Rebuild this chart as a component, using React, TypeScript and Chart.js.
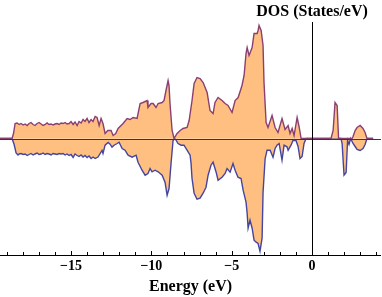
import { useEffect, useRef } from "react";
import { Chart, registerables } from "chart.js";

Chart.register(...registerables);

// Energy grid (eV) and DOS values (States/eV) for the upper (spin-up) curve
const energyUp = [
  -19.42, -18.67, -18.58, -18.48, -18.36, -18.23, -18.11, -17.98, -17.86, -17.73,
  -17.61, -17.49, -17.36, -17.24, -17.11, -16.99, -16.86, -16.74, -16.61, -16.49,
  -16.37, -16.24, -16.12, -15.99, -15.87, -15.74, -15.62, -15.49, -15.37, -15.25,
  -15.12, -15.0, -14.87, -14.75, -14.62, -14.5, -14.37, -14.25, -14.13, -14.0,
  -13.88, -13.75, -13.63, -13.5, -13.38, -13.25, -13.13, -13.01, -12.88, -12.71,
  -12.51, -12.38, -12.22, -12.07, -11.76, -11.51, -11.32, -11.14, -10.89, -10.7,
  -10.52, -10.27, -10.21, -10.02, -9.89, -9.71, -9.58, -9.33, -9.21, -9.09,
  -8.96, -8.9, -8.84, -8.71, -8.59, -8.4, -8.21, -8.03, -7.78, -7.65,
  -7.47, -7.34, -7.16, -6.97, -6.78, -6.53, -6.35, -6.16, -6.04, -5.85,
  -5.6, -5.41, -5.23, -4.98, -4.79, -4.6, -4.36, -4.23, -4.11, -4.04,
  -3.92, -3.73, -3.61, -3.42, -3.36, -3.3, -3.17, -3.05, -2.99, -2.86,
  -2.74, -2.49, -2.3, -2.12, -1.87, -1.68, -1.49, -1.37, -1.24, -1.12,
  -0.93, -0.81, -0.68, 1.18, 1.31, 1.43, 1.56, 1.65, 2.49, 2.55,
  2.68, 2.8, 2.99, 3.17, 3.3, 3.42, 3.8,
];
const dosUp = [
  0, 0, 0.5, 1.5, 1.55, 1.4, 1.5, 1.35, 1.45, 1.3,
  1.5, 1.6, 1.4, 1.3, 1.5, 1.6, 1.45, 1.3, 1.4, 1.55,
  1.4, 1.45, 1.35, 1.45, 1.5, 1.4, 1.55, 1.5, 1.6, 1.45,
  1.5, 1.7, 1.4, 1.65, 1.3, 1.7, 1.55, 1.9, 1.7, 2.0,
  1.6, 1.9, 1.7, 2.2, 2.1, 1.3, 2.0, 1.5, 0.5, 0.8,
  0.8, 0.3, 0.5, 1.0, 1.5, 2.0, 1.9, 2.1, 2.0, 3.5,
  3.6, 3.8, 3.1, 3.5, 3.5, 3.1, 3.5, 3.6, 3.8, 4.8,
  5.8, 5.3, 3.5, 0.8, 0, 0.5, 0.8, 1.0, 1.1, 1.8,
  3.8, 5.5, 6.1, 6.0, 5.6, 4.6, 2.8, 2.5, 3.6, 4.1,
  3.8, 3.5, 3.3, 2.6, 3.8, 4.1, 5.3, 6.3, 8.5, 9.1,
  8.3, 9.1, 10.5, 10.5, 10.8, 11.3, 10.8, 9.3, 5.6, 1.6,
  1.1, 2.3, 1.1, 0.6, 2.0, 0.9, 1.3, 0.5, 1.0, 0.3,
  2.1, 1.2, 0, 0, 0.8, 3.6, 3.3, 0, 0, 0.2,
  0.8, 1.1, 1.3, 1.0, 0.6, 0, 0,
];

// Energy grid (eV) and DOS values (States/eV) for the lower (spin-down) curve
const energyDown = [
  -19.42, -18.67, -18.54, -18.42, -18.3, -18.23, -18.11, -17.98, -17.86, -17.73,
  -17.61, -17.49, -17.36, -17.24, -17.11, -16.99, -16.86, -16.74, -16.62, -16.49,
  -16.37, -16.24, -16.12, -15.99, -15.87, -15.74, -15.62, -15.5, -15.37, -15.25,
  -15.12, -15.0, -14.87, -14.75, -14.62, -14.5, -14.38, -14.25, -14.13, -14.0,
  -13.88, -13.75, -13.63, -13.5, -13.32, -13.07, -13.01, -12.88, -12.69, -12.57,
  -12.45, -12.32, -12.13, -12.01, -11.82, -11.64, -11.45, -11.2, -10.95, -10.83,
  -10.58, -10.39, -10.21, -10.08, -9.96, -9.77, -9.58, -9.33, -9.15, -9.02,
  -8.9, -8.77, -8.65, -8.53, -8.34, -8.15, -7.97, -7.78, -7.59, -7.53,
  -7.47, -7.34, -7.16, -6.97, -6.78, -6.6, -6.47, -6.29, -6.16, -5.97,
  -5.85, -5.6, -5.41, -5.29, -5.1, -4.92, -4.79, -4.61, -4.42, -4.29,
  -4.11, -4.04, -3.98, -3.86, -3.73, -3.61, -3.48, -3.36, -3.24, -3.11,
  -3.05, -2.92, -2.8, -2.61, -2.43, -2.3, -2.18, -2.05, -1.87, -1.74,
  -1.56, -1.49, -1.31, -1.18, -1.0, -0.87, -0.75, -0.62, -0.5, -0.37,
  1.8, 1.87, 1.99, 2.12, 2.21, 2.3, 2.4, 2.55, 2.68, 2.8,
  2.99, 3.17, 3.3, 3.42, 3.8,
];
const dosDown = [
  0, 0, -0.6, -1.45, -1.65, -1.55, -1.5, -1.6, -1.55, -1.7,
  -1.6, -1.5, -1.65, -1.55, -1.45, -1.6, -1.55, -1.45, -1.6, -1.5,
  -1.55, -1.65, -1.5, -1.55, -1.6, -1.5, -1.55, -1.5, -1.65, -1.55,
  -1.7, -1.6, -1.9, -1.55, -1.7, -1.8, -1.65, -1.85, -1.7, -1.9,
  -1.75, -2.0, -1.85, -2.0, -1.85, -1.2, -1.5, -0.67, -0.4, -0.57,
  -0.86, -0.67, -0.5, -0.37, -1.0, -1.17, -1.67, -1.87, -1.67, -2.37,
  -3.17, -3.67, -3.5, -3.0, -3.33, -3.17, -3.33, -3.67, -4.37, -5.67,
  -5.0, -2.37, -0.2, 0, -0.5, -0.67, -0.67, -1.17, -1.67, -2.5,
  -4.0, -5.47, -6.07, -5.97, -5.47, -4.87, -3.67, -2.67, -2.37, -3.37,
  -4.17, -3.87, -3.5, -3.0, -3.37, -2.5, -3.17, -3.87, -4.0, -5.17,
  -6.37, -7.47, -8.97, -8.17, -8.97, -10.17, -10.37, -10.5, -11.27, -9.97,
  -5.37, -2.0, -1.17, -1.17, -1.87, -1.0, -0.67, -0.5, -2.17, -0.67,
  -0.83, -1.17, -0.67, -0.17, -0.2, -0.8, -2.0, -1.8, -0.5, 0,
  0, -0.5, -3.67, -3.4, -0.2, -0.6, 0, -0.5, -0.8, -1.1,
  -1.2, -1.0, -0.6, 0, 0,
];

const xMin = -19.42;
const xMax = 4.29;
const yMin = -11.65;
const yMax = 11.65;
const majorTicks = [-15, -10, -5, 0];
const xTitle = "Energy (eV)";
const yTitle = "DOS (States/eV)";

const SERIF = "'Liberation Serif', 'Times New Roman', serif";

export default function App() {
  const ref = useRef<HTMLCanvasElement | null>(null);

  useEffect(() => {
    if (!ref.current) return;

    const extras = {
      id: "extras",
      afterDraw(chart: any) {
        const ctx = chart.ctx;
        const xs = chart.scales.x;
        const ys = chart.scales.y;
        const area = chart.chartArea;
        ctx.save();
        // zero baseline across the plot
        const y0 = Math.round(ys.getPixelForValue(0)) + 0.5;
        ctx.strokeStyle = "#34344e";
        ctx.lineWidth = 1;
        ctx.beginPath();
        ctx.moveTo(area.left, y0);
        ctx.lineTo(area.right, y0);
        ctx.stroke();
        // vertical axis through x = 0
        const x0 = Math.round(xs.getPixelForValue(0)) + 0.5;
        ctx.strokeStyle = "#000";
        ctx.beginPath();
        ctx.moveTo(x0, area.top);
        ctx.lineTo(x0, area.bottom);
        ctx.stroke();
        // inward tick marks on the bottom axis
        for (const t of xs.ticks) {
          const px = Math.round(xs.getPixelForValue(t.value)) + 0.5;
          const len = majorTicks.includes(t.value) ? 4 : 3;
          ctx.beginPath();
          ctx.moveTo(px, area.bottom);
          ctx.lineTo(px, area.bottom - len);
          ctx.stroke();
        }
        // vertical axis label at the top of the x = 0 axis
        ctx.fillStyle = "#000";
        ctx.font = `bold 16px ${SERIF}`;
        ctx.textAlign = "center";
        ctx.textBaseline = "alphabetic";
        ctx.fillText(yTitle, xs.getPixelForValue(0), 16);
        ctx.restore();
      },
    };

    const chart = new Chart(ref.current, {
      type: "line",
      data: {
        datasets: [
          {
            data: energyUp.map((x, i) => ({ x, y: dosUp[i] })),
            borderColor: "#8a3f72",
            backgroundColor: "#ffbf80",
            borderWidth: 1.4,
            fill: "origin",
            pointRadius: 0,
            tension: 0,
          },
          {
            data: energyDown.map((x, i) => ({ x, y: dosDown[i] })),
            borderColor: "#4545a0",
            backgroundColor: "#ffbf80",
            borderWidth: 1.4,
            fill: "origin",
            pointRadius: 0,
            tension: 0,
          },
        ],
      },
      options: {
        responsive: false,
        animation: false,
        events: [],
        layout: { padding: { top: 22, left: 0, right: 1, bottom: 0 } },
        plugins: {
          legend: { display: false },
          tooltip: { enabled: false },
          title: { display: false },
        },
        scales: {
          x: {
            type: "linear",
            position: "bottom",
            min: xMin,
            max: xMax,
            grid: { drawOnChartArea: false, drawTicks: false, lineWidth: 0 },
            border: { display: true, color: "#000", width: 1 },
            ticks: {
              stepSize: 1,
              includeBounds: false,
              autoSkip: false,
              maxRotation: 0,
              padding: 3,
              color: "#000",
              font: { family: SERIF, weight: "bold", size: 14 },
              callback: (v: any) =>
                majorTicks.includes(v) ? (v < 0 ? "\u2212" + Math.abs(v) : String(v)) : "",
            },
            title: {
              display: true,
              text: xTitle,
              color: "#000",
              font: { family: SERIF, weight: "bold", size: 16 },
              padding: { top: 0, bottom: 1 },
            },
            afterFit: (scale: any) => {
              scale.height = 42;
            },
          },
          y: {
            type: "linear",
            position: { x: 0 } as any,
            min: yMin,
            max: yMax,
            display: false,
          },
        },
      } as any,
      plugins: [extras],
    });

    return () => chart.destroy();
  }, []);

  return (
    <div style={{ position: "absolute", left: 0, top: 0, width: 382, height: 297, background: "#fff" }}>
      <canvas ref={ref} width={382} height={297} />
    </div>
  );
}
